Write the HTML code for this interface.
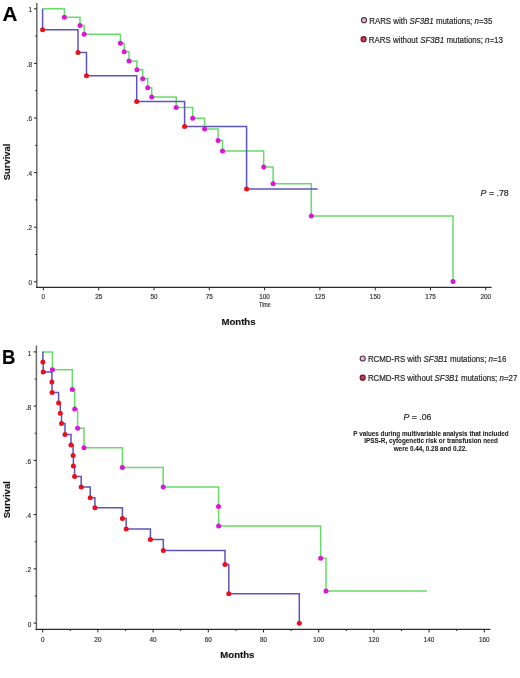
<!DOCTYPE html>
<html><head><meta charset="utf-8"><title>Survival curves</title>
<style>
html,body{margin:0;padding:0;background:#fff;}
body{width:520px;height:678px;overflow:hidden;}
svg{display:block;font-family:"Liberation Sans", sans-serif;filter:blur(0.4px);}
text{stroke:#333;stroke-width:0.18px;}
</style></head>
<body>
<svg width="520" height="678" viewBox="0 0 520 678">
<rect width="520" height="678" fill="#fff"/>
<line x1="36.8" y1="3.0" x2="36.8" y2="288.05" stroke="#6a6a6a" stroke-width="1.5"/><line x1="36.05" y1="287.3" x2="491.6" y2="287.3" stroke="#2c2c2c" stroke-width="1.25"/><line x1="34.0" y1="8.80" x2="36.8" y2="8.80" stroke="#222" stroke-width="1"/><text x="32.10" y="11.90" text-anchor="end" font-size="6.4" fill="#3a3a3a">1</text><line x1="34.0" y1="63.40" x2="36.8" y2="63.40" stroke="#222" stroke-width="1"/><text x="32.10" y="66.50" text-anchor="end" font-size="6.4" fill="#3a3a3a">.8</text><line x1="34.0" y1="118.00" x2="36.8" y2="118.00" stroke="#222" stroke-width="1"/><text x="32.10" y="121.10" text-anchor="end" font-size="6.4" fill="#3a3a3a">.6</text><line x1="34.0" y1="172.60" x2="36.8" y2="172.60" stroke="#222" stroke-width="1"/><text x="32.10" y="175.70" text-anchor="end" font-size="6.4" fill="#3a3a3a">.4</text><line x1="34.0" y1="227.20" x2="36.8" y2="227.20" stroke="#222" stroke-width="1"/><text x="32.10" y="230.30" text-anchor="end" font-size="6.4" fill="#3a3a3a">.2</text><line x1="34.0" y1="281.80" x2="36.8" y2="281.80" stroke="#222" stroke-width="1"/><text x="32.10" y="284.90" text-anchor="end" font-size="6.4" fill="#3a3a3a">0</text><line x1="35.199999999999996" y1="36.10" x2="36.8" y2="36.10" stroke="#222" stroke-width="1"/><line x1="35.199999999999996" y1="90.70" x2="36.8" y2="90.70" stroke="#222" stroke-width="1"/><line x1="35.199999999999996" y1="145.30" x2="36.8" y2="145.30" stroke="#222" stroke-width="1"/><line x1="35.199999999999996" y1="199.90" x2="36.8" y2="199.90" stroke="#222" stroke-width="1"/><line x1="35.199999999999996" y1="254.50" x2="36.8" y2="254.50" stroke="#222" stroke-width="1"/><line x1="43.40" y1="287.3" x2="43.40" y2="290.3" stroke="#222" stroke-width="1"/><text x="43.40" y="299.40" text-anchor="middle" font-size="6.4" fill="#3a3a3a">0</text><line x1="98.70" y1="287.3" x2="98.70" y2="290.3" stroke="#222" stroke-width="1"/><text x="98.70" y="299.40" text-anchor="middle" font-size="6.4" fill="#3a3a3a">25</text><line x1="154.00" y1="287.3" x2="154.00" y2="290.3" stroke="#222" stroke-width="1"/><text x="154.00" y="299.40" text-anchor="middle" font-size="6.4" fill="#3a3a3a">50</text><line x1="209.30" y1="287.3" x2="209.30" y2="290.3" stroke="#222" stroke-width="1"/><text x="209.30" y="299.40" text-anchor="middle" font-size="6.4" fill="#3a3a3a">75</text><line x1="264.60" y1="287.3" x2="264.60" y2="290.3" stroke="#222" stroke-width="1"/><text x="264.60" y="299.40" text-anchor="middle" font-size="6.4" fill="#3a3a3a">100</text><line x1="319.90" y1="287.3" x2="319.90" y2="290.3" stroke="#222" stroke-width="1"/><text x="319.90" y="299.40" text-anchor="middle" font-size="6.4" fill="#3a3a3a">125</text><line x1="375.20" y1="287.3" x2="375.20" y2="290.3" stroke="#222" stroke-width="1"/><text x="375.20" y="299.40" text-anchor="middle" font-size="6.4" fill="#3a3a3a">150</text><line x1="430.50" y1="287.3" x2="430.50" y2="290.3" stroke="#222" stroke-width="1"/><text x="430.50" y="299.40" text-anchor="middle" font-size="6.4" fill="#3a3a3a">175</text><line x1="485.80" y1="287.3" x2="485.80" y2="290.3" stroke="#222" stroke-width="1"/><text x="485.80" y="299.40" text-anchor="middle" font-size="6.4" fill="#3a3a3a">200</text><path d="M42.60,8.80 H64.40 V17.30 H80.00 V25.60 H84.20 V34.20 H120.40 V43.20 H124.20 V51.80 H129.00 V60.90 H136.90 V69.80 H142.70 V78.70 H147.70 V87.70 H151.70 V97.10 H176.20 V107.60 H192.70 V118.30 H204.60 V129.00 H218.10 V140.40 H222.50 V151.10 H263.70 V166.90 H273.10 V183.80 H311.30 V216.10 H453.00 V281.60" fill="none" stroke="#68dc68" stroke-width="1.5"/><path d="M42.60,8.80 V29.80 H78.00 V52.50 H86.50 V75.70 H136.70 V101.40 H184.60 V126.50 H246.60 V189.00 H317.60" fill="none" stroke="#5d55bc" stroke-width="1.5"/><circle cx="64.40" cy="17.30" r="2.5" fill="#d818d6"/><circle cx="80.00" cy="25.60" r="2.5" fill="#d818d6"/><circle cx="84.20" cy="34.20" r="2.5" fill="#d818d6"/><circle cx="120.40" cy="43.20" r="2.5" fill="#d818d6"/><circle cx="124.20" cy="51.80" r="2.5" fill="#d818d6"/><circle cx="129.00" cy="60.90" r="2.5" fill="#d818d6"/><circle cx="136.90" cy="69.80" r="2.5" fill="#d818d6"/><circle cx="142.70" cy="78.70" r="2.5" fill="#d818d6"/><circle cx="147.70" cy="87.70" r="2.5" fill="#d818d6"/><circle cx="151.70" cy="97.10" r="2.5" fill="#d818d6"/><circle cx="176.20" cy="107.60" r="2.5" fill="#d818d6"/><circle cx="192.70" cy="118.30" r="2.5" fill="#d818d6"/><circle cx="204.60" cy="129.00" r="2.5" fill="#d818d6"/><circle cx="218.10" cy="140.40" r="2.5" fill="#d818d6"/><circle cx="222.50" cy="151.10" r="2.5" fill="#d818d6"/><circle cx="263.70" cy="166.90" r="2.5" fill="#d818d6"/><circle cx="273.10" cy="183.80" r="2.5" fill="#d818d6"/><circle cx="311.30" cy="216.10" r="2.5" fill="#d818d6"/><circle cx="453.00" cy="281.60" r="2.5" fill="#d818d6"/><circle cx="42.60" cy="29.80" r="2.5" fill="#e8101a"/><circle cx="78.00" cy="52.50" r="2.5" fill="#e8101a"/><circle cx="86.50" cy="75.70" r="2.5" fill="#e8101a"/><circle cx="136.70" cy="101.40" r="2.5" fill="#e8101a"/><circle cx="184.60" cy="126.50" r="2.5" fill="#e8101a"/><circle cx="246.60" cy="189.00" r="2.5" fill="#e8101a"/><line x1="36.4" y1="345.6" x2="36.4" y2="630.15" stroke="#6a6a6a" stroke-width="1.5"/><line x1="35.65" y1="629.4" x2="490.4" y2="629.4" stroke="#2c2c2c" stroke-width="1.25"/><line x1="33.6" y1="351.90" x2="36.4" y2="351.90" stroke="#222" stroke-width="1"/><text x="31.20" y="355.50" text-anchor="end" font-size="6.4" fill="#3a3a3a">1</text><line x1="33.6" y1="406.14" x2="36.4" y2="406.14" stroke="#222" stroke-width="1"/><text x="31.20" y="409.74" text-anchor="end" font-size="6.4" fill="#3a3a3a">.8</text><line x1="33.6" y1="460.38" x2="36.4" y2="460.38" stroke="#222" stroke-width="1"/><text x="31.20" y="463.98" text-anchor="end" font-size="6.4" fill="#3a3a3a">.6</text><line x1="33.6" y1="514.62" x2="36.4" y2="514.62" stroke="#222" stroke-width="1"/><text x="31.20" y="518.22" text-anchor="end" font-size="6.4" fill="#3a3a3a">.4</text><line x1="33.6" y1="568.86" x2="36.4" y2="568.86" stroke="#222" stroke-width="1"/><text x="31.20" y="572.46" text-anchor="end" font-size="6.4" fill="#3a3a3a">.2</text><line x1="33.6" y1="623.10" x2="36.4" y2="623.10" stroke="#222" stroke-width="1"/><text x="31.20" y="626.70" text-anchor="end" font-size="6.4" fill="#3a3a3a">0</text><line x1="34.8" y1="379.02" x2="36.4" y2="379.02" stroke="#222" stroke-width="1"/><line x1="34.8" y1="433.26" x2="36.4" y2="433.26" stroke="#222" stroke-width="1"/><line x1="34.8" y1="487.50" x2="36.4" y2="487.50" stroke="#222" stroke-width="1"/><line x1="34.8" y1="541.74" x2="36.4" y2="541.74" stroke="#222" stroke-width="1"/><line x1="34.8" y1="595.98" x2="36.4" y2="595.98" stroke="#222" stroke-width="1"/><line x1="42.70" y1="629.4" x2="42.70" y2="632.4" stroke="#222" stroke-width="1"/><text x="42.70" y="641.50" text-anchor="middle" font-size="6.4" fill="#3a3a3a">0</text><line x1="97.90" y1="629.4" x2="97.90" y2="632.4" stroke="#222" stroke-width="1"/><text x="97.90" y="641.50" text-anchor="middle" font-size="6.4" fill="#3a3a3a">20</text><line x1="153.10" y1="629.4" x2="153.10" y2="632.4" stroke="#222" stroke-width="1"/><text x="153.10" y="641.50" text-anchor="middle" font-size="6.4" fill="#3a3a3a">40</text><line x1="208.30" y1="629.4" x2="208.30" y2="632.4" stroke="#222" stroke-width="1"/><text x="208.30" y="641.50" text-anchor="middle" font-size="6.4" fill="#3a3a3a">60</text><line x1="263.50" y1="629.4" x2="263.50" y2="632.4" stroke="#222" stroke-width="1"/><text x="263.50" y="641.50" text-anchor="middle" font-size="6.4" fill="#3a3a3a">80</text><line x1="318.70" y1="629.4" x2="318.70" y2="632.4" stroke="#222" stroke-width="1"/><text x="318.70" y="641.50" text-anchor="middle" font-size="6.4" fill="#3a3a3a">100</text><line x1="373.90" y1="629.4" x2="373.90" y2="632.4" stroke="#222" stroke-width="1"/><text x="373.90" y="641.50" text-anchor="middle" font-size="6.4" fill="#3a3a3a">120</text><line x1="429.10" y1="629.4" x2="429.10" y2="632.4" stroke="#222" stroke-width="1"/><text x="429.10" y="641.50" text-anchor="middle" font-size="6.4" fill="#3a3a3a">140</text><line x1="484.30" y1="629.4" x2="484.30" y2="632.4" stroke="#222" stroke-width="1"/><text x="484.30" y="641.50" text-anchor="middle" font-size="6.4" fill="#3a3a3a">160</text><line x1="70.30" y1="629.4" x2="70.30" y2="631.0" stroke="#222" stroke-width="1"/><line x1="125.50" y1="629.4" x2="125.50" y2="631.0" stroke="#222" stroke-width="1"/><line x1="180.70" y1="629.4" x2="180.70" y2="631.0" stroke="#222" stroke-width="1"/><line x1="235.90" y1="629.4" x2="235.90" y2="631.0" stroke="#222" stroke-width="1"/><line x1="291.10" y1="629.4" x2="291.10" y2="631.0" stroke="#222" stroke-width="1"/><line x1="346.30" y1="629.4" x2="346.30" y2="631.0" stroke="#222" stroke-width="1"/><line x1="401.50" y1="629.4" x2="401.50" y2="631.0" stroke="#222" stroke-width="1"/><line x1="456.70" y1="629.4" x2="456.70" y2="631.0" stroke="#222" stroke-width="1"/><path d="M42.40,351.90 H52.40 V369.80 H72.30 V389.60 H74.70 V408.90 H77.60 V428.30 H84.00 V447.80 H122.40 V467.50 H163.20 V486.90 H218.50 V506.40 H218.60 V526.00 H320.70 V558.30 H326.00 V591.00 H427.00" fill="none" stroke="#68dc68" stroke-width="1.5"/><path d="M42.80,351.90 H42.90 V361.90 H43.20 V371.90 H51.90 V382.00 H52.10 V392.50 H58.60 V402.90 H60.30 V413.20 H61.50 V423.60 H65.00 V434.50 H71.00 V445.00 H73.10 V455.60 H73.40 V465.90 H74.60 V476.50 H81.20 V486.90 H90.20 V497.70 H94.90 V507.70 H122.40 V518.50 H126.20 V528.90 H150.40 V539.50 H163.30 V550.40 H225.00 V564.40 H228.80 V593.80 H299.30 V623.30" fill="none" stroke="#5d55bc" stroke-width="1.5"/><circle cx="52.40" cy="369.80" r="2.5" fill="#d818d6"/><circle cx="72.30" cy="389.60" r="2.5" fill="#d818d6"/><circle cx="74.70" cy="408.90" r="2.5" fill="#d818d6"/><circle cx="77.60" cy="428.30" r="2.5" fill="#d818d6"/><circle cx="84.00" cy="447.80" r="2.5" fill="#d818d6"/><circle cx="122.40" cy="467.50" r="2.5" fill="#d818d6"/><circle cx="163.20" cy="486.90" r="2.5" fill="#d818d6"/><circle cx="218.50" cy="506.40" r="2.5" fill="#d818d6"/><circle cx="218.60" cy="526.00" r="2.5" fill="#d818d6"/><circle cx="320.70" cy="558.30" r="2.5" fill="#d818d6"/><circle cx="326.00" cy="591.00" r="2.5" fill="#d818d6"/><circle cx="42.90" cy="361.90" r="2.5" fill="#e8101a"/><circle cx="43.20" cy="371.90" r="2.5" fill="#e8101a"/><circle cx="51.90" cy="382.00" r="2.5" fill="#e8101a"/><circle cx="52.10" cy="392.50" r="2.5" fill="#e8101a"/><circle cx="58.60" cy="402.90" r="2.5" fill="#e8101a"/><circle cx="60.30" cy="413.20" r="2.5" fill="#e8101a"/><circle cx="61.50" cy="423.60" r="2.5" fill="#e8101a"/><circle cx="65.00" cy="434.50" r="2.5" fill="#e8101a"/><circle cx="71.00" cy="445.00" r="2.5" fill="#e8101a"/><circle cx="73.10" cy="455.60" r="2.5" fill="#e8101a"/><circle cx="73.40" cy="465.90" r="2.5" fill="#e8101a"/><circle cx="74.60" cy="476.50" r="2.5" fill="#e8101a"/><circle cx="81.20" cy="486.90" r="2.5" fill="#e8101a"/><circle cx="90.20" cy="497.70" r="2.5" fill="#e8101a"/><circle cx="94.90" cy="507.70" r="2.5" fill="#e8101a"/><circle cx="122.40" cy="518.50" r="2.5" fill="#e8101a"/><circle cx="126.20" cy="528.90" r="2.5" fill="#e8101a"/><circle cx="150.40" cy="539.50" r="2.5" fill="#e8101a"/><circle cx="163.30" cy="550.40" r="2.5" fill="#e8101a"/><circle cx="225.00" cy="564.40" r="2.5" fill="#e8101a"/><circle cx="228.80" cy="593.80" r="2.5" fill="#e8101a"/><circle cx="299.30" cy="623.30" r="2.5" fill="#e8101a"/><text x="2.4" y="21.1" font-size="20.6" font-weight="bold" text-anchor="start" fill="#000" >A</text><text transform="translate(1.9,364.2) scale(0.94,1)" font-size="19.7" font-weight="bold" fill="#000">B</text><text transform="translate(9.8,161.9) rotate(-90)" font-size="9.45" font-weight="bold" text-anchor="middle" fill="#111">Survival</text><text transform="translate(10.0,499.7) rotate(-90)" font-size="9.6" font-weight="bold" text-anchor="middle" fill="#111">Survival</text><text x="238.5" y="325.2" font-size="9.6" font-weight="bold" text-anchor="middle" fill="#111" >Months</text><text x="237.4" y="658.2" font-size="9.6" font-weight="bold" text-anchor="middle" fill="#111" >Months</text><text x="264.9" y="306.7" font-size="6.4" font-weight="normal" text-anchor="middle" fill="#3a3a3a" textLength="11.6" lengthAdjust="spacingAndGlyphs">Time</text><circle cx="364.0" cy="20.2" r="2.55" fill="#dcc2d6" stroke="#553048" stroke-width="1.1"/><text transform="translate(369.2,23.50) scale(1,1.1)" font-size="7.9" fill="#222">RARS with <tspan font-style="italic">SF3B1</tspan> mutations; <tspan font-style="italic">n</tspan>=35</text><circle cx="363.6" cy="39.2" r="2.55" fill="#c83a58" stroke="#661626" stroke-width="1.1"/><text transform="translate(368.8,42.50) scale(1,1.1)" font-size="7.9" fill="#222">RARS without <tspan font-style="italic">SF3B1</tspan> mutations; <tspan font-style="italic">n</tspan>=13</text><circle cx="362.7" cy="358.5" r="2.55" fill="#dcc2d6" stroke="#553048" stroke-width="1.1"/><text transform="translate(367.9,361.80) scale(1,1.1)" font-size="7.9" fill="#222">RCMD-RS with <tspan font-style="italic">SF3B1</tspan> mutations; <tspan font-style="italic">n</tspan>=16</text><circle cx="362.7" cy="377.7" r="2.55" fill="#c83a58" stroke="#661626" stroke-width="1.1"/><text transform="translate(367.9,381.00) scale(1,1.1)" font-size="7.9" fill="#222">RCMD-RS without <tspan font-style="italic">SF3B1</tspan> mutations; <tspan font-style="italic">n</tspan>=27</text><text transform="translate(480.6,195.7) scale(1,1.06)" font-size="8.8" fill="#222"><tspan font-style="italic">P</tspan> = .78</text><text transform="translate(403.4,419.9) scale(1,1.06)" font-size="8.8" fill="#222"><tspan font-style="italic">P</tspan> = .06</text><text x="431.0" y="435.9" font-size="6.3" font-weight="bold" text-anchor="middle" fill="#1a1a1a" textLength="155.4" lengthAdjust="spacingAndGlyphs" style="stroke-width:0.08px">P values during multivariable analysis that included</text><text x="431.1" y="443.2" font-size="6.3" font-weight="bold" text-anchor="middle" fill="#1a1a1a" textLength="133.6" lengthAdjust="spacingAndGlyphs" style="stroke-width:0.08px">IPSS-R, cytogenetic risk or transfusion need</text><text x="430.4" y="450.6" font-size="6.3" font-weight="bold" text-anchor="middle" fill="#1a1a1a" textLength="73.4" lengthAdjust="spacingAndGlyphs" style="stroke-width:0.08px">were 0.44, 0.28 and 0.22.</text>
</svg>
</body></html>
